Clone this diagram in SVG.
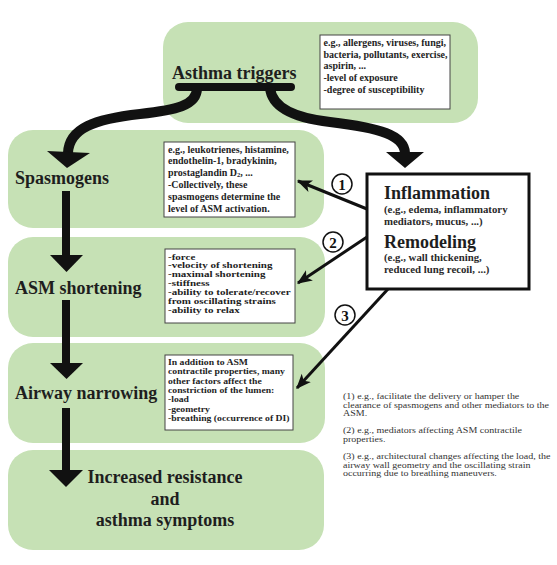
<svg xmlns="http://www.w3.org/2000/svg" width="557" height="565" viewBox="0 0 557 565">
<defs>
<style>
.g{fill:#c6e1b5;stroke:none}
.big{font-family:"Liberation Serif","Times New Roman",serif;font-weight:bold;font-size:18px;fill:#1e1e1e}
.sm{font-family:"Liberation Serif","Times New Roman",serif;font-weight:bold;font-size:10px;fill:#1e1e1e}
.sm3{font-family:"Liberation Serif","Times New Roman",serif;font-weight:bold;font-size:9.7px;fill:#1e1e1e}
.sm2{font-family:"Liberation Serif","Times New Roman",serif;font-weight:bold;font-size:11px;fill:#1e1e1e}
.inf{font-family:"Liberation Serif","Times New Roman",serif;font-weight:bold;font-size:10.8px;fill:#2a2a2a}
.fn{font-family:"Liberation Serif","Times New Roman",serif;font-size:10px;fill:#333}
.tb{fill:#fff;stroke:#444;stroke-width:1}
.num{font-family:"Liberation Serif","Times New Roman",serif;font-weight:bold;font-size:15px;fill:#111;text-anchor:middle}
.circ{fill:#fff;stroke:#111;stroke-width:1.5}
.thick{fill:none;stroke:#111;stroke-width:10;stroke-linecap:butt}
.vbar{fill:none;stroke:#111;stroke-width:8}
.thin{fill:none;stroke:#111;stroke-width:3}
.head{fill:#111}
</style>
<marker id="ah" viewBox="0 0 12 10" refX="11" refY="5" markerWidth="15" markerHeight="13" orient="auto" markerUnits="userSpaceOnUse">
<path d="M0,0 L12,5 L0,10 L3,5 z" fill="#111"/>
</marker>
</defs>

<g id="triggers">
<rect class="g" x="163" y="22" width="315" height="101" rx="25"/>
<text class="big" x="172" y="79">Asthma triggers</text>
<rect class="tb" x="320" y="35" width="130" height="74"/>
<text class="sm" x="323.5" y="46">e.g., allergens, viruses, fungi,</text>
<text class="sm" x="323.5" y="57.5">bacteria, pollutants, exercise,</text>
<text class="sm" x="323.5" y="69">aspirin, ...</text>
<text class="sm" x="323.5" y="80.5">-level of exposure</text>
<text class="sm" x="323.5" y="92.5">-degree of susceptibility</text>
</g>

<g id="spasmogens">
<rect class="g" x="8" y="130" width="316" height="98" rx="25"/>
<text class="big" x="15" y="184">Spasmogens</text>
<rect class="tb" x="164" y="142" width="131" height="75"/>
<text class="sm" x="168" y="152.5">e.g., leukotrienes, histamine,</text>
<text class="sm" x="168" y="164.3">endothelin-1, bradykinin,</text>
<text class="sm" x="168" y="176.1">prostaglandin D<tspan font-size="6.5" dy="1">2</tspan><tspan dy="-1">, ...</tspan></text>
<text class="sm" x="168" y="187.9">-Collectively, these</text>
<text class="sm" x="168" y="199.7">spasmogens determine  the</text>
<text class="sm" x="168" y="211.5">level of ASM activation.</text>
</g>

<g id="asm">
<rect class="g" x="8" y="237" width="317" height="100" rx="25"/>
<text class="big" x="15" y="294">ASM shortening</text>
<rect class="tb" x="165" y="249" width="130" height="74"/>
<text class="sm2" x="168" y="0" transform="matrix(1 0 0 0.78 0 259.5)">-force</text>
<text class="sm2" x="168" y="0" transform="matrix(1 0 0 0.78 0 268.4)">-velocity of shortening</text>
<text class="sm2" x="168" y="0" transform="matrix(1 0 0 0.78 0 277.3)">-maximal shortening</text>
<text class="sm2" x="168" y="0" transform="matrix(1 0 0 0.78 0 286.2)">-stiffness</text>
<text class="sm2" x="168" y="0" transform="matrix(1 0 0 0.78 0 295.1)">-ability to tolerate/recover</text>
<text class="sm2" x="168" y="0" transform="matrix(1 0 0 0.78 0 304)">from oscillating strains</text>
<text class="sm2" x="168" y="0" transform="matrix(1 0 0 0.78 0 312.9)">-ability to relax</text>
</g>

<g id="airway">
<rect class="g" x="8" y="343" width="317" height="100" rx="25"/>
<text class="big" x="15" y="399">Airway narrowing</text>
<rect class="tb" x="165" y="355" width="128" height="75"/>
<text class="sm3" x="168" y="0" transform="matrix(1 0 0 0.9 0 365)">In addition to ASM</text>
<text class="sm3" x="168" y="0" transform="matrix(1 0 0 0.9 0 374.3)">contractile properties, many</text>
<text class="sm3" x="168" y="0" transform="matrix(1 0 0 0.9 0 383.6)">other factors affect the</text>
<text class="sm3" x="168" y="0" transform="matrix(1 0 0 0.9 0 392.9)">constriction of the lumen:</text>
<text class="sm3" x="168" y="0" transform="matrix(1 0 0 0.9 0 402.2)">-load</text>
<text class="sm3" x="168" y="0" transform="matrix(1 0 0 0.9 0 411.5)">-geometry</text>
<text class="sm3" x="168" y="0" transform="matrix(1 0 0 0.9 0 420.8)">-breathing (occurrence of DI)</text>
</g>

<g id="outcome">
<rect class="g" x="8" y="450" width="316" height="100" rx="25"/>
<text class="big" x="165" y="483" text-anchor="middle">Increased resistance</text>
<text class="big" x="165" y="505" text-anchor="middle">and</text>
<text class="big" x="165" y="526" text-anchor="middle">asthma symptoms</text>
</g>

<g id="inflammation">
<rect x="367" y="174" width="162" height="115" fill="#fff" stroke="#111" stroke-width="3"/>
<text class="big" x="384" y="199">Inflammation</text>
<text class="inf" x="384" y="213">(e.g., edema, inflammatory</text>
<text class="inf" x="384" y="225">mediators, mucus, ...)</text>
<text class="big" x="384" y="248">Remodeling</text>
<text class="inf" x="384" y="261">(e.g., wall thickening,</text>
<text class="inf" x="384" y="273">reduced lung recoil, ...)</text>
</g>

<g id="footnotes">
<text class="fn" x="343" y="0" transform="matrix(1 0 0 0.85 0 399)">(1) e.g., facilitate the delivery or hamper the</text>
<text class="fn" x="343" y="0" transform="matrix(1 0 0 0.85 0 407.6)">clearance of spasmogens and other mediators to the</text>
<text class="fn" x="343" y="0" transform="matrix(1 0 0 0.85 0 416.3)">ASM.</text>
<text class="fn" x="343" y="0" transform="matrix(1 0 0 0.85 0 433)">(2) e.g., mediators affecting ASM contractile</text>
<text class="fn" x="343" y="0" transform="matrix(1 0 0 0.85 0 442)">properties.</text>
<text class="fn" x="343" y="0" transform="matrix(1 0 0 0.85 0 458.7)">(3) e.g., architectural changes affecting the load, the</text>
<text class="fn" x="343" y="0" transform="matrix(1 0 0 0.85 0 467.5)">airway wall geometry and the oscillating strain</text>
<text class="fn" x="343" y="0" transform="matrix(1 0 0 0.85 0 476.3)">occurring due to breathing maneuvers.</text>
</g>

<g id="connectors">
<line x1="179" y1="87" x2="291" y2="87" stroke="#111" stroke-width="8" stroke-linecap="round"/>
<path class="thick" d="M197,88 C197,106 175,110 140,114 C95,119 69,128 68,153"/>
<polygon class="head" points="47,151 90,153 67,168"/>
<path class="thick" d="M270,88 C272,108 295,118 330,122 C380,128 404,135 405,153"/>
<polygon class="head" points="386,152 424,152 405,168"/>

<line class="vbar" x1="66" y1="191" x2="66" y2="256"/>
<polygon class="head" points="50,255 83,255 66.5,272"/>
<line class="vbar" x1="66" y1="300" x2="66" y2="364"/>
<polygon class="head" points="50,363 83,363 66.5,379"/>
<line class="vbar" x1="66" y1="408" x2="66" y2="471"/>
<polygon class="head" points="49,470 83,470 66,487"/>

<line class="thin" x1="367" y1="209" x2="298" y2="181" marker-end="url(#ah)"/>
<line class="thin" x1="367" y1="237" x2="298" y2="283" marker-end="url(#ah)"/>
<line class="thin" x1="388" y1="289" x2="297" y2="388" marker-end="url(#ah)"/>

<circle class="circ" cx="342" cy="184" r="10"/>
<text class="num" x="342" y="189.5">1</text>
<circle class="circ" cx="333" cy="242" r="10"/>
<text class="num" x="333" y="247.5">2</text>
<circle class="circ" cx="345" cy="315" r="10"/>
<text class="num" x="345" y="320.5">3</text>
</g>
</svg>
